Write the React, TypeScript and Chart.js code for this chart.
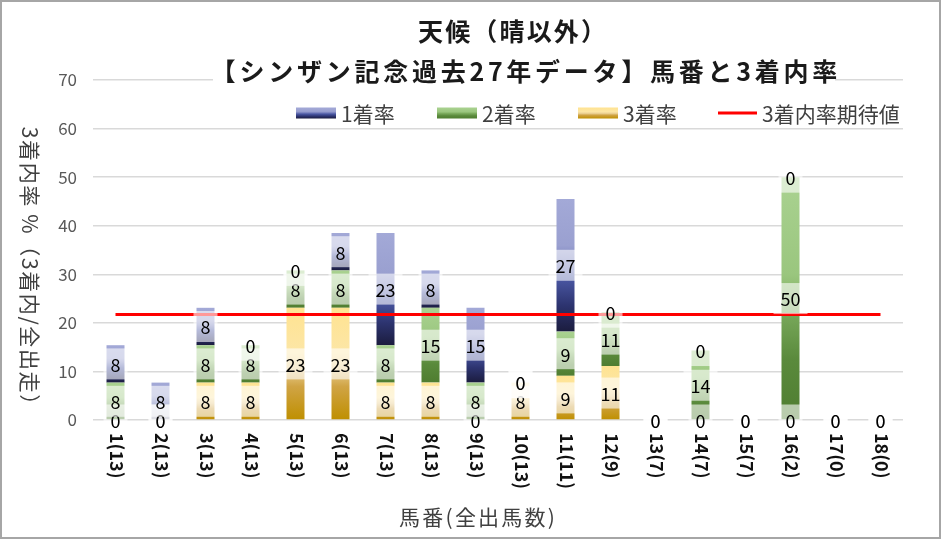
import React, { useEffect, useRef } from 'react';
import { Chart, registerables } from 'chart.js';

Chart.register(...registerables);

// ---------- data ----------
const categories = [
  '1(13)', '2(13)', '3(13)', '4(13)', '5(13)', '6(13)', '7(13)', '8(13)', '9(13)',
  '10(13)', '11(11)', '12(9)', '13(7)', '14(7)', '15(7)', '16(2)', '17(0)', '18(0)',
];
const rate1 = [7.7, 7.7, 7.7, 0, 0, 7.7, 23.1, 7.7, 15.4, 0, 27.3, 0, 0, 0, 0, 0, 0, 0];
const rate2 = [7.7, 0, 7.7, 7.7, 7.7, 7.7, 7.7, 15.4, 7.7, 0, 9.1, 11.1, 0, 14.3, 0, 50, 0, 0];
const rate3 = [0, 0, 7.7, 7.7, 23.1, 23.1, 7.7, 7.7, 0, 7.7, 9.1, 11.1, 0, 0, 0, 0, 0, 0];
const expectedValue = 21.7;
const expectedLine = categories.map(() => expectedValue);

const titleLine1 = '天候（晴以外）';
const titleLine2 = '【シンザン記念過去27年データ】馬番と3着内率';
const yTitle = '3着内率 %（3着内/全出走）';
const xTitle = '馬番(全出馬数)';
const seriesNames = ['1着率', '2着率', '3着率', '3着内率期待値'];
const yMin = 0;
const yMax = 70;
const yStep = 10;

// ---------- styles ----------
const FONT = '"Noto Sans CJK JP", "Noto Sans", sans-serif';
type Stop = [number, string];
const stops1: Stop[] = [[0, '#1b1c3e'], [0.2, '#2d3470'], [0.4, '#4a57a3'], [0.55, '#8088c2'], [0.65, '#9aa0d0'], [1, '#a3a9d7']];
const stops2: Stop[] = [[0, '#4f7d30'], [0.25, '#5a8a3c'], [0.45, '#7aaa5c'], [0.6, '#9ac67e'], [1, '#aad291']];
const stops3: Stop[] = [[0, '#bf8f00'], [0.3, '#d0a445'], [0.45, '#e9cd8e'], [0.6, '#fce6a6'], [1, '#ffe391']];

function segmentGradient(stops: Stop[]) {
  return (c: any) => {
    const chart = c.chart;
    if (!chart.chartArea || c.type !== 'data' || !chart.scales.y) return stops[stops.length - 1][1];
    const i = c.dataIndex;
    const ds = chart.data.datasets;
    let base = 0;
    for (let k = 0; k < c.datasetIndex; k++) base += ds[k].data[i] as number;
    const v = ds[c.datasetIndex].data[i] as number;
    const y = chart.scales.y;
    const y0 = y.getPixelForValue(base);
    const y1 = y.getPixelForValue(base + v);
    if (Math.abs(y0 - y1) < 1) return stops[0][1];
    const g = chart.ctx.createLinearGradient(0, y0, 0, y1);
    stops.forEach(([o, col]) => g.addColorStop(o, col));
    return g;
  };
}

function fittedText(ctx: CanvasRenderingContext2D, text: string, x: number, y: number, target: number) {
  (ctx as any).letterSpacing = '0px';
  const w = ctx.measureText(text).width;
  const n = Array.from(text).length;
  let ls = (target - w) / n;
  ls = Math.max(-3, Math.min(6, ls));
  (ctx as any).letterSpacing = ls + 'px';
  const w2 = ctx.measureText(text).width;
  ctx.textAlign = 'left';
  ctx.fillText(text, x - w2 / 2 + ls / 2, y);
  (ctx as any).letterSpacing = '0px';
  return w2;
}

const overlayPlugin = {
  id: 'overlay',
  beforeDraw(chart: any) {
    const ctx = chart.ctx as CanvasRenderingContext2D;
    ctx.save();
    ctx.fillStyle = '#ffffff';
    ctx.fillRect(0, 0, chart.width, chart.height);
    ctx.restore();
  },
  afterDatasetsDraw(chart: any) {
    const ctx = chart.ctx as CanvasRenderingContext2D;
    const y = chart.scales.y;
    const ds = chart.data.datasets;
    ctx.save();
    ctx.font = `18px ${FONT}`;
    ctx.textAlign = 'center';
    ctx.textBaseline = 'middle';
    for (let d = 0; d < 3; d++) {
      const meta = chart.getDatasetMeta(d);
      for (let i = 0; i < categories.length; i++) {
        let base = 0;
        for (let k = 0; k < d; k++) base += ds[k].data[i];
        const v = ds[d].data[i] as number;
        const cy = y.getPixelForValue(base + v / 2);
        const cx = meta.data[i].x;
        const label = String(Math.round(v));
        const tw = ctx.measureText(label).width;
        const bw = tw + 14;
        const bh = 31;
        ctx.fillStyle = 'rgba(255,255,255,0.6)';
        ctx.fillRect(cx - bw / 2, cy - bh / 2, bw, bh);
        ctx.fillStyle = '#000000';
        ctx.fillText(label, cx, cy + 1);
      }
    }
    ctx.restore();
  },
  afterDraw(chart: any) {
    const ctx = chart.ctx as CanvasRenderingContext2D;
    const x = chart.scales.x;
    ctx.save();

    // titles
    ctx.fillStyle = '#1a1a1a';
    ctx.textBaseline = 'middle';
    ctx.font = `bold 25px ${FONT}`;
    fittedText(ctx, titleLine1, 512, 31, 190);
    // white box behind line 2
    ctx.fillStyle = '#ffffff';
    ctx.fillRect(213, 58, 622, 28);
    ctx.fillStyle = '#1a1a1a';
    fittedText(ctx, titleLine2, 524, 71, 630);

    // legend
    const ly = 113;
    const sw = [
      { x: 296, stops: stops1 },
      { x: 437, stops: stops2 },
      { x: 578, stops: stops3 },
    ];
    ctx.font = `21px ${FONT}`;
    ctx.textAlign = 'left';
    ctx.textBaseline = 'middle';
    sw.forEach((s, k) => {
      const g = ctx.createLinearGradient(0, ly + 5.5, 0, ly - 5.5);
      s.stops.forEach(([o, col]) => g.addColorStop(o, col));
      ctx.fillStyle = g;
      ctx.fillRect(s.x, ly - 5.5, 40, 11);
      ctx.fillStyle = '#404040';
      ctx.fillText(seriesNames[k], s.x + 45, ly + 1);
    });
    ctx.strokeStyle = '#ff0000';
    ctx.lineWidth = 3;
    ctx.beginPath();
    ctx.moveTo(718, ly);
    ctx.lineTo(757, ly);
    ctx.stroke();
    ctx.fillStyle = '#404040';
    ctx.fillText(seriesNames[3], 762, ly + 1);

    // x tick labels, rotated clockwise
    ctx.font = `bold 18px ${FONT}`;
    ctx.fillStyle = '#111111';
    ctx.textAlign = 'left';
    ctx.textBaseline = 'middle';
    categories.forEach((c, i) => {
      const px = x.getPixelForValue(i);
      ctx.save();
      ctx.translate(px + 1, 433);
      ctx.rotate(Math.PI / 2);
      ctx.fillText(c, 0, 0);
      ctx.restore();
    });

    // x title
    ctx.font = `21px ${FONT}`;
    ctx.fillStyle = '#404040';
    ctx.textBaseline = 'middle';
    fittedText(ctx, xTitle, 477, 517, 158);

    // y title, rotated clockwise
    ctx.save();
    ctx.translate(30, 271);
    ctx.rotate(Math.PI / 2);
    ctx.font = `21px ${FONT}`;
    ctx.fillStyle = '#404040';
    ctx.textBaseline = 'middle';
    fittedText(ctx, yTitle, 0, 0, 290);
    ctx.restore();

    // outer border
    ctx.strokeStyle = '#a6a6a6';
    ctx.lineWidth = 2;
    ctx.strokeRect(1, 1, chart.width - 2, chart.height - 2);
    ctx.restore();
  },
};

export default function App() {
  const ref = useRef<HTMLCanvasElement | null>(null);

  useEffect(() => {
    document.body.style.margin = '0';
    if (!ref.current) return;
    const chart = new Chart(ref.current, {
      type: 'bar',
      data: {
        labels: categories,
        datasets: [
          { label: seriesNames[2], data: rate3, backgroundColor: segmentGradient(stops3) as any, barPercentage: 0.4, categoryPercentage: 1, order: 1 },
          { label: seriesNames[1], data: rate2, backgroundColor: segmentGradient(stops2) as any, barPercentage: 0.4, categoryPercentage: 1, order: 1 },
          { label: seriesNames[0], data: rate1, backgroundColor: segmentGradient(stops1) as any, barPercentage: 0.4, categoryPercentage: 1, order: 1 },
          {
            type: 'line' as any,
            label: seriesNames[3],
            data: expectedLine,
            borderColor: '#ff0000',
            borderWidth: 3,
            pointRadius: 0,
            tension: 0,
            fill: false,
            stack: 'expected',
            order: 0,
          } as any,
        ],
      },
      options: {
        responsive: false,
        animation: false,
        devicePixelRatio: 1,
        layout: { padding: { top: 80, right: 38, bottom: 119, left: 0 } },
        plugins: {
          legend: { display: false },
          title: { display: false },
          tooltip: { enabled: false },
        },
        scales: {
          x: {
            stacked: true,
            ticks: { display: false },
            grid: { display: false },
            border: { display: false },
            afterFit: (s: any) => { s.height = 0; },
          },
          y: {
            stacked: true,
            min: yMin,
            max: yMax,
            ticks: { stepSize: yStep, color: '#595959', font: { family: FONT, size: 17 }, padding: 16 },
            grid: { color: '#d9d9d9', lineWidth: 1.5, drawTicks: false },
            border: { display: false },
            afterFit: (s: any) => { s.width = 93; },
          },
        },
      },
      plugins: [overlayPlugin],
    });
    return () => chart.destroy();
  }, []);

  return <canvas ref={ref} width={941} height={539} style={{ display: 'block' }} />;
}
